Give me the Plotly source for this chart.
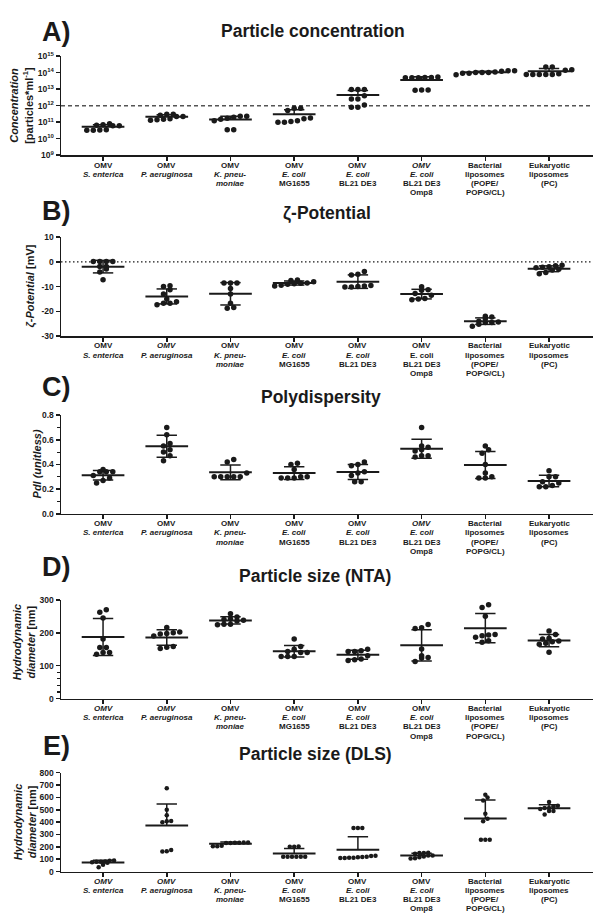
import re
import numpy as np
import plotly.graph_objects as go

FONT = "Liberation Sans"
W, H = 600, 921

# ---------------- data ----------------
labels_A = ["OMV<br><i>S. enterica</i>", "OMV<br><i>P. aeruginosa</i>", "OMV<br><i>K. pneu-<br>moniae</i>",
            "OMV<br><i>E. coli</i><br>MG1655", "OMV<br><i>E. coli</i><br>BL21 DE3",
            "<i>OMV<br>E. coli</i><br>BL21 DE3<br>Omp8", "Bacterial<br>liposomes<br>(POPE/<br>POPG/CL)",
            "Eukaryotic<br>liposomes<br>(PC)"]
labels_B = ["OMV<br><i>S. enterica</i>", "<i>OMV<br>P. aeruginosa</i>", "OMV<br><i>K. pneu-<br>moniae</i>",
            "OMV<br><i>E. coli</i><br>MG1655", "OMV<br><i>E. coli</i><br>BL21 DE3",
            "OMV<br>E. coli<br>BL21 DE3<br>Omp8", "Bacterial<br>liposomes<br>(POPE/<br>POPG/CL)",
            "Eukaryotic<br>liposomes<br>(PC)"]
labels_C = labels_A
labels_D = ["<i>OMV<br>S. enterica</i>", "<i>OMV<br>P. aeruginosa</i>", "OMV<br><i>K. pneu-<br>moniae</i>",
            "OMV<br><i>E. coli</i><br>MG1655", "OMV<br><i>E. coli</i><br>BL21 DE3",
            "OMV<br><i>E. coli</i><br>BL21 DE3<br>Omp8", "Bacterial<br>liposomes<br>(POPE/<br>POPG/CL)",
            "Eukaryotic<br>liposomes<br>(PC)"]
labels_E = labels_D

concentration = [
    [6.0e10, 6.5e10, 8.0e10, 6.0e10, 7.0e10, 3.2e10, 3.2e10, 3.3e10, 3.5e10],
    [3.0e11, 2.6e11, 2.2e11, 1.6e11, 1.4e11, 1.3e11, 1.5e11, 2.2e11, 3.0e11],
    [2.3e11, 2.0e11, 1.7e11, 1.2e11, 2.3e11, 3.5e10, 3.5e10, 1.5e11],
    [7.0e11, 7.0e11, 5.0e11, 1.8e11, 1.0e11, 1.0e11, 1.1e11, 1.2e11, 1.6e11],
    [9.5e12, 9.5e12, 9.5e12, 4.0e12, 2.5e12, 2.5e12, 1.1e12, 8.0e11, 8.0e11],
    [5.5e13, 5.0e13, 4.8e13, 4.8e13, 4.8e13, 5.0e13, 9.0e12, 8.5e12, 9.0e12],
    [1.3e14, 1.2e14, 1.0e14, 9.0e13, 7.5e13, 9.0e13, 1.0e14, 1.1e14, 1.3e14, 1.0e14],
    [1.5e14, 2.2e14, 2.2e14, 1.4e14, 7.6e13, 7.6e13, 7.6e13, 7.6e13, 7.6e13, 8.5e13],
]
zeta = [
    [0.2, 0.2, 0.2, 0.2, -1.9, -1.9, -2.9, -4.1, -7.2],
    [-9.7, -10.0, -11.3, -13.0, -15.0, -16.7, -17.3, -16.7, -16.1],
    [-8.5, -8.5, -8.5, -10.8, -13.0, -16.7, -18.5, -18.8],
    [-7.3, -7.5, -8.0, -8.5, -8.8, -9.0, -9.4, -9.8, -8.6],
    [-3.9, -5.0, -5.3, -9.8, -10.2, -10.2, -10.0, -9.5],
    [-10.1, -11.3, -11.5, -12.8, -13.5, -15.0, -15.3, -14.8],
    [-22.0, -22.3, -23.0, -24.0, -24.3, -24.5, -25.2, -26.0, -24.5],
    [-1.4, -1.6, -2.0, -2.2, -3.0, -3.3, -4.3, -4.8, -2.4],
]
pdi = [
    [0.36, 0.34, 0.34, 0.34, 0.31, 0.29, 0.27, 0.25],
    [0.70, 0.64, 0.57, 0.55, 0.52, 0.50, 0.47, 0.43],
    [0.44, 0.42, 0.33, 0.30, 0.30, 0.30, 0.30, 0.30],
    [0.41, 0.40, 0.36, 0.30, 0.29, 0.29, 0.29, 0.30],
    [0.42, 0.40, 0.39, 0.34, 0.33, 0.31, 0.26, 0.26],
    [0.70, 0.55, 0.54, 0.52, 0.51, 0.47, 0.46, 0.47],
    [0.55, 0.52, 0.49, 0.40, 0.33, 0.30, 0.29, 0.29],
    [0.35, 0.30, 0.30, 0.26, 0.25, 0.23, 0.22, 0.22],
]
size_nta = [
    [270, 262, 245, 181, 155, 155, 140, 135, 140],
    [216, 202, 200, 198, 196, 190, 158, 152, 156],
    [258, 248, 242, 240, 238, 236, 226, 224, 226],
    [181, 158, 150, 143, 140, 140, 128, 128, 128],
    [145, 143, 143, 150, 130, 120, 116, 118],
    [225, 213, 215, 151, 125, 113, 123, 130],
    [285, 277, 250, 195, 186, 171, 176, 191, 193],
    [195, 205, 181, 175, 165, 168, 173, 183, 141],
]
size_dls = [
    [88, 82, 80, 75, 72, 35, 55, 80, 90],
    [675, 500, 455, 410, 400, 408, 175, 163, 165],
    [236, 234, 232, 205, 205, 208, 232, 234, 236],
    [200, 200, 202, 120, 120, 120, 120, 120, 120],
    [352, 352, 352, 128, 120, 115, 112, 110, 110, 112, 118, 125],
    [152, 150, 145, 130, 122, 108, 105, 115, 130, 150],
    [600, 621, 575, 467, 427, 408, 258, 258, 258],
    [563, 528, 515, 490, 462, 490, 515, 533, 507],
]

# ---------------- panel configuration ----------------
X_RANGE = [-0.66, 7.69]
X0_PX, X1_PX = 61, 593
PX_PER_UNIT = (X1_PX - X0_PX) / (X_RANGE[1] - X_RANGE[0])
LABEL_GAP = 10.0     # px from axis to first label line centre
LABEL_LINE = 9.3     # px between label lines

panels = [
    dict(letter="A)", title="Particle concentration", vals=concentration, labels=labels_A,
         log=True, rng=(9, 15), top=50.7, bot=151, lower=False,
         tickvals=[10.0 ** k for k in range(9, 16)],
         ticktext=["<b>10<sup>%d</sup></b>" % k for k in range(9, 16)],
         ylabel="<b><i>Concentration</i></b><br><b>[particles*ml<sup>-1</sup>]</b>", ylab_x=21, ylab_y=101,
         letter_y=26, title_y=25, title_x=313, msize=5.5, dx=6.5, minor=None),
    dict(letter="B)", title="ζ-Potential", vals=zeta, labels=labels_B,
         log=False, rng=(-30, 10), top=234, bot=334, lower=True,
         tickvals=[-30, -20, -10, 0, 10], ticktext=["<b>%d</b>" % v for v in [-30, -20, -10, 0, 10]],
         ylabel="<b><i>ζ-Potential</i> [mV]</b>", ylab_x=31, ylab_y=284,
         letter_y=207, title_y=210, title_x=327, msize=5.5, dx=6.5, minor=None),
    dict(letter="C)", title="Polydispersity", vals=pdi, labels=labels_C,
         log=False, rng=(0, 0.8), top=414, bot=514, lower=True,
         tickvals=[0, 0.2, 0.4, 0.6, 0.8], ticktext=["<b>%.1f</b>" % v for v in [0, 0.2, 0.4, 0.6, 0.8]],
         ylabel="<b><i>PdI (unitless)</i></b>", ylab_x=37, ylab_y=464,
         letter_y=386, title_y=396, title_x=321, msize=5.5, dx=6.5, minor=[0.1, 0.3, 0.5, 0.7]),
    dict(letter="D)", title="Particle size (NTA)", vals=size_nta, labels=labels_D,
         log=False, rng=(0, 300), top=601, bot=701, lower=True,
         tickvals=[0, 100, 200, 300], ticktext=["<b>%d</b>" % v for v in [0, 100, 200, 300]],
         ylabel="<b><i>Hydrodynamic</i></b><br><b><i>diameter</i> [nm]</b>", ylab_x=24, ylab_y=644,
         letter_y=568, title_y=577, title_x=315, msize=5.5, dx=6.5, minor=[20, 40, 60, 80]),
    dict(letter="E)", title="Particle size (DLS)", vals=size_dls, labels=labels_E,
         log=False, rng=(0, 800), top=776, bot=876, lower=False,
         tickvals=list(range(0, 801, 100)), ticktext=["<b>%d</b>" % v for v in range(0, 801, 100)],
         ylabel="<b><i>Hydrodynamic</i></b><br><b><i>diameter</i> [nm]</b>", ylab_x=25, ylab_y=826,
         letter_y=749, title_y=757, title_x=315, msize=4.5, dx=4.4, minor=None),
]


def to_px(v, p):
    v = np.asarray(v, dtype=float)
    lo, hi = p["rng"]
    if p["log"]:
        v = np.log10(v)
    return (v - lo) / (hi - lo) * (p["bot"] - p["top"])


def swarm(px_vals, dy, dx_units):
    order = np.argsort(px_vals)
    rows = []
    for i in order:
        if rows and px_vals[i] - px_vals[rows[-1][0]] < dy:
            rows[-1].append(i)
        else:
            rows.append([i])
    off = np.zeros(len(px_vals))
    for r in rows:
        n = len(r)
        for k, i in enumerate(r):
            off[i] = (k - (n - 1) / 2) * dx_units
    return off


def split_lines(label):
    """Split a <br> label into lines, carrying an open <i> across line breaks."""
    out = []
    italic = False
    for line in label.split("<br>"):
        txt = ("<i>" if italic else "") + line
        opens = len(re.findall(r"<i>", txt))
        closes = len(re.findall(r"</i>", txt))
        italic = opens > closes
        if italic:
            txt += "</i>"
        out.append(txt)
    return out


fig = go.Figure()
annotations = []
INK = "#1a1a1a"

for n, p in enumerate(panels, start=1):
    xa = "x" if n == 1 else "x%d" % n
    ya = "y" if n == 1 else "y%d" % n
    px_ = []
    py_ = []
    mean_x, mean_y = [], []
    err_x, err_y = [], []
    for i, vals in enumerate(p["vals"]):
        arr = np.asarray(vals, dtype=float)
        off = swarm(to_px(arr, p), 5.0, p["dx"] / PX_PER_UNIT)
        px_ += list(i + off)
        py_ += list(arr)
        m = arr.mean()
        s = arr.std(ddof=1)
        mean_x += [i - 0.335, i + 0.335, None]
        mean_y += [m, m, None]
        hi_v = m + s
        lo_v = m - s
        if p["lower"]:
            err_x += [i, i, None, i - 0.16, i + 0.16, None, i - 0.16, i + 0.16, None]
            err_y += [lo_v, hi_v, None, hi_v, hi_v, None, lo_v, lo_v, None]
        else:
            err_x += [i, i, None, i - 0.16, i + 0.16, None]
            err_y += [m, hi_v, None, hi_v, hi_v, None]

    # reference lines
    if n == 1:
        fig.add_trace(go.Scatter(x=X_RANGE, y=[1e12, 1e12], mode="lines", xaxis=xa, yaxis=ya,
                                 line=dict(color="#555555", width=1.5, dash="4px,3px"),
                                 hoverinfo="skip", showlegend=False))
    if n == 2:
        fig.add_trace(go.Scatter(x=X_RANGE, y=[0, 0], mode="lines", xaxis=xa, yaxis=ya,
                                 line=dict(color=INK, width=1.3, dash="1.5px,2.5px"),
                                 hoverinfo="skip", showlegend=False))

    fig.add_trace(go.Scatter(x=px_, y=py_, mode="markers", xaxis=xa, yaxis=ya,
                             marker=dict(size=p["msize"], color=INK, line=dict(width=0)),
                             showlegend=False, cliponaxis=False))
    fig.add_trace(go.Scatter(x=err_x, y=err_y, mode="lines", xaxis=xa, yaxis=ya,
                             line=dict(color=INK, width=1.5), showlegend=False, hoverinfo="skip"))
    fig.add_trace(go.Scatter(x=mean_x, y=mean_y, mode="lines", xaxis=xa, yaxis=ya,
                             line=dict(color=INK, width=2), showlegend=False, hoverinfo="skip"))

    ydom = [1 - p["bot"] / H, 1 - p["top"] / H]
    xdom = [X0_PX / W, X1_PX / W]
    xkey = "xaxis" if n == 1 else "xaxis%d" % n
    ykey = "yaxis" if n == 1 else "yaxis%d" % n
    xaxis = dict(domain=xdom, anchor=ya, range=X_RANGE, showline=True, linecolor=INK, linewidth=1.5,
                 ticks="outside", ticklen=4, tickwidth=1.5, tickcolor=INK, showgrid=False,
                 zeroline=False, tickmode="array", tickvals=list(range(8)), showticklabels=False,
                 fixedrange=True)
    yaxis = dict(domain=ydom, anchor=xa, range=list(p["rng"]), showline=True, linecolor=INK, linewidth=1.5,
                 ticks="outside", ticklen=4, tickwidth=1.5, tickcolor=INK, showgrid=False,
                 zeroline=False, tickmode="array", tickvals=p["tickvals"], ticktext=p["ticktext"],
                 tickfont=dict(family=FONT, size=8.5, color=INK), fixedrange=True)
    if p["log"]:
        yaxis["type"] = "log"
    if p["minor"]:
        yaxis["minor"] = dict(tickmode="array", tickvals=p["minor"], ticks="outside",
                              ticklen=2.5, tickwidth=1.2, tickcolor=INK, showgrid=False)
    fig.update_layout({xkey: xaxis, ykey: yaxis})

    # category labels, one text per line so the line spacing matches
    for i, lab in enumerate(p["labels"]):
        for k, line in enumerate(split_lines(lab)):
            annotations.append(dict(text="<b>%s</b>" % line, x=i, xref=xa,
                                    y=1 - (p["bot"] + LABEL_GAP + k * LABEL_LINE) / H, yref="paper",
                                    xanchor="center", yanchor="middle", showarrow=False,
                                    font=dict(family=FONT, size=8, color=INK)))

    annotations.append(dict(text="<b>%s</b>" % p["letter"], x=56 / W, y=1 - p["letter_y"] / H,
                            xref="paper", yref="paper", xanchor="center", yanchor="middle",
                            showarrow=False, font=dict(family=FONT, size=27, color=INK)))
    annotations.append(dict(text="<b>%s</b>" % p["title"], x=p["title_x"] / W, y=1 - p["title_y"] / H,
                            xref="paper", yref="paper", xanchor="center", yanchor="middle",
                            showarrow=False, font=dict(family=FONT, size=17.5, color=INK)))
    annotations.append(dict(text=p["ylabel"], x=p["ylab_x"] / W, y=1 - p["ylab_y"] / H,
                            xref="paper", yref="paper", xanchor="center", yanchor="middle",
                            textangle=-90, showarrow=False, font=dict(family=FONT, size=11, color=INK)))

fig.update_layout(width=W, height=H, autosize=False, margin=dict(l=0, r=0, t=0, b=0),
                  paper_bgcolor="white", plot_bgcolor="white", annotations=annotations,
                  font=dict(family=FONT, color=INK), showlegend=False)

fig.write_html("out.html", config={"displayModeBar": False, "staticPlot": True},
               post_script="document.body.style.margin='0';document.body.style.overflow='hidden';")
